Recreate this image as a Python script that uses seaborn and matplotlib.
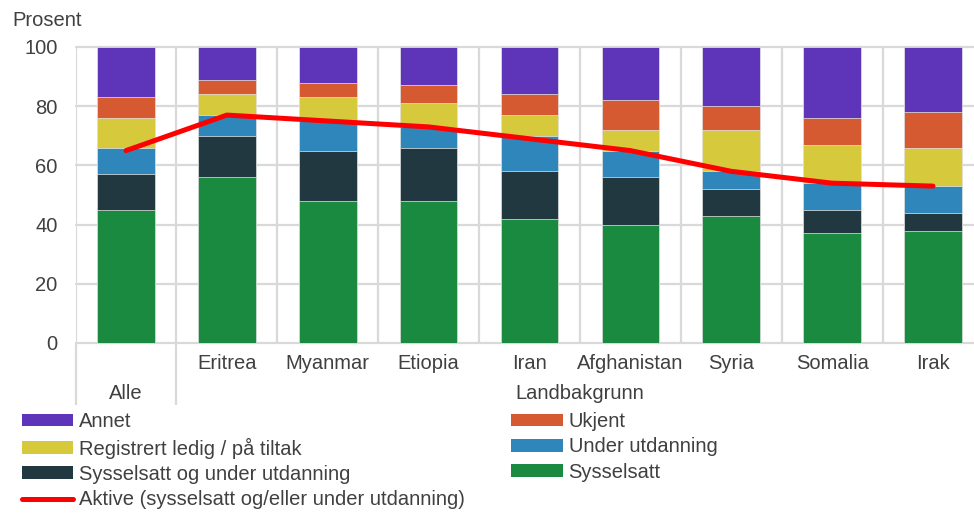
import numpy as np
import pandas as pd
import seaborn as sns
from matplotlib import pyplot as plt
from matplotlib.patches import Patch
from matplotlib.lines import Line2D

land = ["Alle", "Eritrea", "Myanmar", "Etiopia", "Iran", "Afghanistan", "Syria", "Somalia", "Irak"]
sysselsatt = [45, 56, 48, 48, 42, 40, 43, 37, 38]
syss_og_utd = [12, 14, 17, 18, 16, 16, 9, 8, 6]
under_utd = [9, 7, 10, 7, 12, 9, 6, 9, 9]
registrert = [10, 7, 8, 8, 7, 7, 14, 13, 13]
ukjent = [7, 5, 5, 6, 7, 10, 8, 9, 12]
annet = [17, 11, 12, 13, 16, 18, 20, 24, 22]
aktive = [65, 77, 75, 73, 69, 65, 58, 54, 53]

serier = ["Sysselsatt", "Sysselsatt og under utdanning", "Under utdanning",
          "Registrert ledig / på tiltak", "Ukjent", "Annet"]
farger = ["#1A8A40", "#223841", "#2E86BA", "#D6C93B", "#D55A32", "#5E35B8"]

df = pd.DataFrame({"land": land, "Sysselsatt": sysselsatt,
                   "Sysselsatt og under utdanning": syss_og_utd,
                   "Under utdanning": under_utd,
                   "Registrert ledig / på tiltak": registrert,
                   "Ukjent": ukjent, "Annet": annet})
kum = df[serier].cumsum(axis=1)

sns.set_style("white")
plt.rcParams["font.family"] = ["Liberation Sans", "DejaVu Sans"]
plt.rcParams["font.size"] = 14.5
plt.rcParams["text.color"] = "#404040"
plt.rcParams["xtick.color"] = "#404040"
plt.rcParams["ytick.color"] = "#404040"
GRID = "#D9D9D9"

fig = plt.figure(figsize=(9.74, 5.13), dpi=100)
ax = fig.add_axes([75.6 / 974, 1 - 343 / 513, (983.4 - 75.6) / 974, 296 / 513])

# stack by drawing cumulative totals from the top down
for navn, farge in reversed(list(zip(serier, farger))):
    sns.barplot(x=df["land"], y=kum[navn], order=land, color=farge, saturation=1,
                width=0.57, edgecolor="#e8e8e8", linewidth=0.5, ax=ax)

sns.lineplot(x=np.arange(len(land)), y=aktive, color="#FF0000", lw=3.6,
             solid_capstyle="round", ax=ax)

ax.set_xlim(-0.5, len(land) - 0.5)
ax.set_ylim(0, 100)
ax.set_yticks(range(0, 101, 20))
ax.set_xticks(range(len(land)), [""] + land[1:])
ax.set_xticks(np.arange(-0.5, len(land), 1), minor=True)
ax.tick_params(axis="x", which="both", length=0, pad=8)
ax.tick_params(axis="y", length=0, pad=13)
ax.set_xlabel("")
ax.set_ylabel("")
ax.yaxis.grid(True, color=GRID, lw=1.6)
ax.xaxis.grid(True, which="minor", color=GRID, lw=1.6)
ax.xaxis.grid(False, which="major")
ax.set_axisbelow(True)
for ln in ax.get_ygridlines():
    ln.set_clip_on(False)
for s in ax.spines.values():
    s.set_visible(False)

# multi-level category axis: only the "Alle" group is boxed off
trans = ax.get_xaxis_transform()
ax.vlines([-0.5, 0.5], 0, -0.21, transform=trans, clip_on=False, color=GRID, lw=1.6)
ax.text(0, -0.169, "Alle", transform=trans, ha="center", va="center")
ax.text(4.5, -0.169, "Landbakgrunn", transform=trans, ha="center", va="center")

fig.text(12 / 974, 1 - 21 / 513, "Prosent", ha="left", va="center")

h = {n: Patch(facecolor=f, edgecolor="none") for n, f in zip(serier, farger)}
rekkefolge = ["Annet", "Registrert ledig / på tiltak", "Sysselsatt og under utdanning"]
handles = [h[n] for n in rekkefolge]
labels = list(rekkefolge)
handles.append(Line2D([], [], color="#FF0000", lw=3.6))
labels.append("Aktive (sysselsatt og/eller under utdanning)")
for n in ["Ukjent", "Under utdanning", "Sysselsatt"]:
    handles.append(h[n])
    labels.append(n)
fig.legend(handles, labels, ncol=2, loc="upper left",
           bbox_to_anchor=(22 / 974, 1 - 412 / 513), frameon=False,
           borderpad=0, borderaxespad=0, handlelength=2.54, handleheight=0.6,
           handletextpad=0.3, labelspacing=0.32, columnspacing=2.3)

fig.savefig("out.png", dpi=100)
